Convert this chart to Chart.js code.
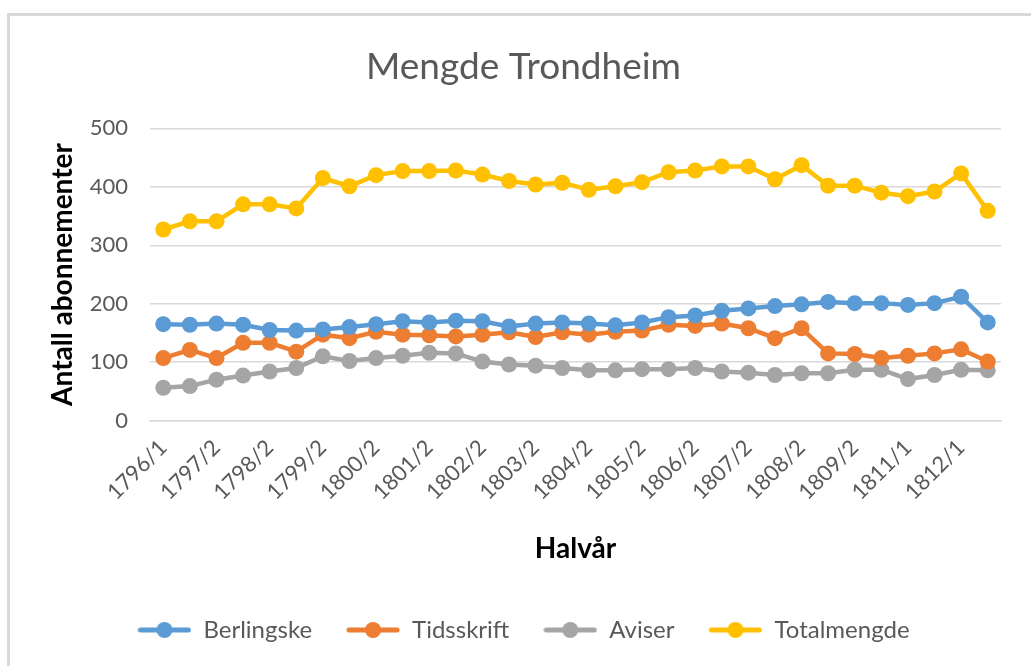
<!DOCTYPE html>
<html>
<head>
<meta charset="utf-8">
<script src="https://cdn.jsdelivr.net/npm/chart.js@4"></script>
<style>
  html, body { margin: 0; padding: 0; background: #fff; }
  #frame {
    position: absolute; left: 7px; top: 13px; right: 0; bottom: 0;
    border-left: 3px solid #d9d9d9; border-top: 3px solid #d9d9d9;
  }
  #wrap { position: absolute; left: 0; top: 0; width: 1031px; height: 666px; }
</style>
</head>
<body>
<div id="frame"></div>
<div id="wrap"><canvas id="chart" width="1031" height="666"></canvas></div>
<script>
// half-years (only every other one gets a label on the axis)
const halvaar = [
  '1796/1', '1797/1', '1797/2', '1798/1', '1798/2', '1799/1', '1799/2', '1800/1',
  '1800/2', '1801/1', '1801/2', '1802/1', '1802/2', '1803/1', '1803/2', '1804/1',
  '1804/2', '1805/1', '1805/2', '1806/1', '1806/2', '1807/1', '1807/2', '1808/1',
  '1808/2', '1809/1', '1809/2', '1810/2', '1811/1', '1811/2', '1812/1', '1812/2'
];

const berlingske = [165, 164, 166, 164, 155, 154, 156, 160, 165, 170, 168, 171,
  170, 161, 166, 168, 166, 163, 168, 177, 180, 188, 192, 196, 199, 203, 201, 201,
  198, 201, 212, 168];
const tidsskrift = [107, 121, 107, 133, 133, 118, 147, 141, 152, 147, 146, 144,
  147, 151, 143, 151, 147, 152, 154, 164, 162, 166, 158, 141, 158, 115, 114, 107,
  111, 115, 122, 101];
const aviser = [56, 59, 70, 77, 84, 90, 110, 102, 107, 111, 116, 115,
  101, 96, 94, 90, 86, 86, 88, 88, 90, 84, 82, 78, 81, 81, 87, 87,
  71, 78, 87, 86];
const totalmengde = [327, 341, 341, 370, 370, 363, 415, 401, 420, 427, 427, 428,
  421, 410, 404, 407, 395, 401, 408, 425, 428, 435, 435, 413, 437, 402, 402, 390,
  384, 392, 423, 359];

const yTicks = [0, 100, 200, 300, 400, 500];

const textColor = '#595959';
const fontFam = "Lato, 'Open Sans', sans-serif";

// legend marker: short line with a dot in the middle
function legendMarker(color) {
  const c = document.createElement('canvas');
  c.width = 54; c.height = 18;
  const g = c.getContext('2d');
  g.strokeStyle = color;
  g.lineWidth = 5;
  g.lineCap = 'round';
  g.beginPath();
  g.moveTo(3, 9); g.lineTo(51, 9);
  g.stroke();
  g.fillStyle = color;
  g.beginPath();
  g.arc(27, 9, 8, 0, Math.PI * 2);
  g.fill();
  return c;
}

function serie(label, data, color) {
  return {
    label: label,
    data: data,
    borderColor: color,
    backgroundColor: color,
    borderWidth: 4.5,
    pointRadius: 8,
    pointHoverRadius: 8,
    pointBorderWidth: 0,
    tension: 0,
    fill: false,
    pointStyle: 'circle',
    marker: legendMarker(color)
  };
}

new Chart(document.getElementById('chart'), {
  type: 'line',
  data: {
    labels: halvaar,
    datasets: [
      serie('Berlingske', berlingske, '#5b9bd5'),
      serie('Tidsskrift', tidsskrift, '#ed7d31'),
      serie('Aviser', aviser, '#a5a5a5'),
      serie('Totalmengde', totalmengde, '#ffc000')
    ]
  },
  options: {
    responsive: false,
    animation: false,
    layout: { padding: { left: 46, right: 30, top: 40, bottom: 14 } },
    plugins: {
      title: {
        display: true,
        text: 'Mengde Trondheim',
        color: textColor,
        font: { family: fontFam, size: 37, weight: 'normal' },
        padding: { top: 5, bottom: 39 }
      },
      legend: {
        position: 'bottom',
        labels: {
          color: textColor,
          font: { family: fontFam, size: 24 },
          usePointStyle: true,
          pointStyleWidth: 54,
          padding: 34,
          generateLabels(chart) {
            return chart.data.datasets.map((ds, i) => ({
              text: ds.label,
              fontColor: textColor,
              pointStyle: ds.marker,
              fillStyle: ds.borderColor,
              strokeStyle: ds.borderColor,
              lineWidth: 0,
              hidden: false,
              datasetIndex: i
            }));
          }
        }
      },
      tooltip: { enabled: false }
    },
    scales: {
      x: {
        offset: true,
        grid: { display: false },
        border: { color: '#d9d9d9', width: 1.5 },
        // the rotated first label may stick out to the left, like in Excel
        afterFit(s) { s.paddingLeft = 0; s.paddingRight = 0; },
        ticks: {
          autoSkip: false,
          maxRotation: 45,
          minRotation: 45,
          color: textColor,
          font: { family: fontFam, size: 22 },
          padding: 6,
          callback(v, i) { return i % 2 === 0 ? halvaar[i] : ''; }
        },
        title: {
          display: true,
          text: 'Halvår',
          color: '#000',
          font: { family: fontFam, size: 28, weight: 'bold' },
          padding: { top: 21, bottom: 18 }
        }
      },
      y: {
        min: yTicks[0],
        max: yTicks[yTicks.length - 1],
        afterBuildTicks(axis) { axis.ticks = yTicks.map(v => ({ value: v })); },
        afterFit(s) { s.width = 104; },
        grid: { color: '#d9d9d9', lineWidth: 1.5, drawTicks: false },
        border: { display: false },
        ticks: {
          color: textColor,
          font: { family: fontFam, size: 22 },
          padding: 22
        },
        title: {
          display: true,
          text: 'Antall abonnementer',
          color: '#000',
          font: { family: fontFam, size: 28, weight: 'bold' },
          padding: { top: 0, bottom: 8 }
        }
      }
    }
  }
});
</script>
</body>
</html>
